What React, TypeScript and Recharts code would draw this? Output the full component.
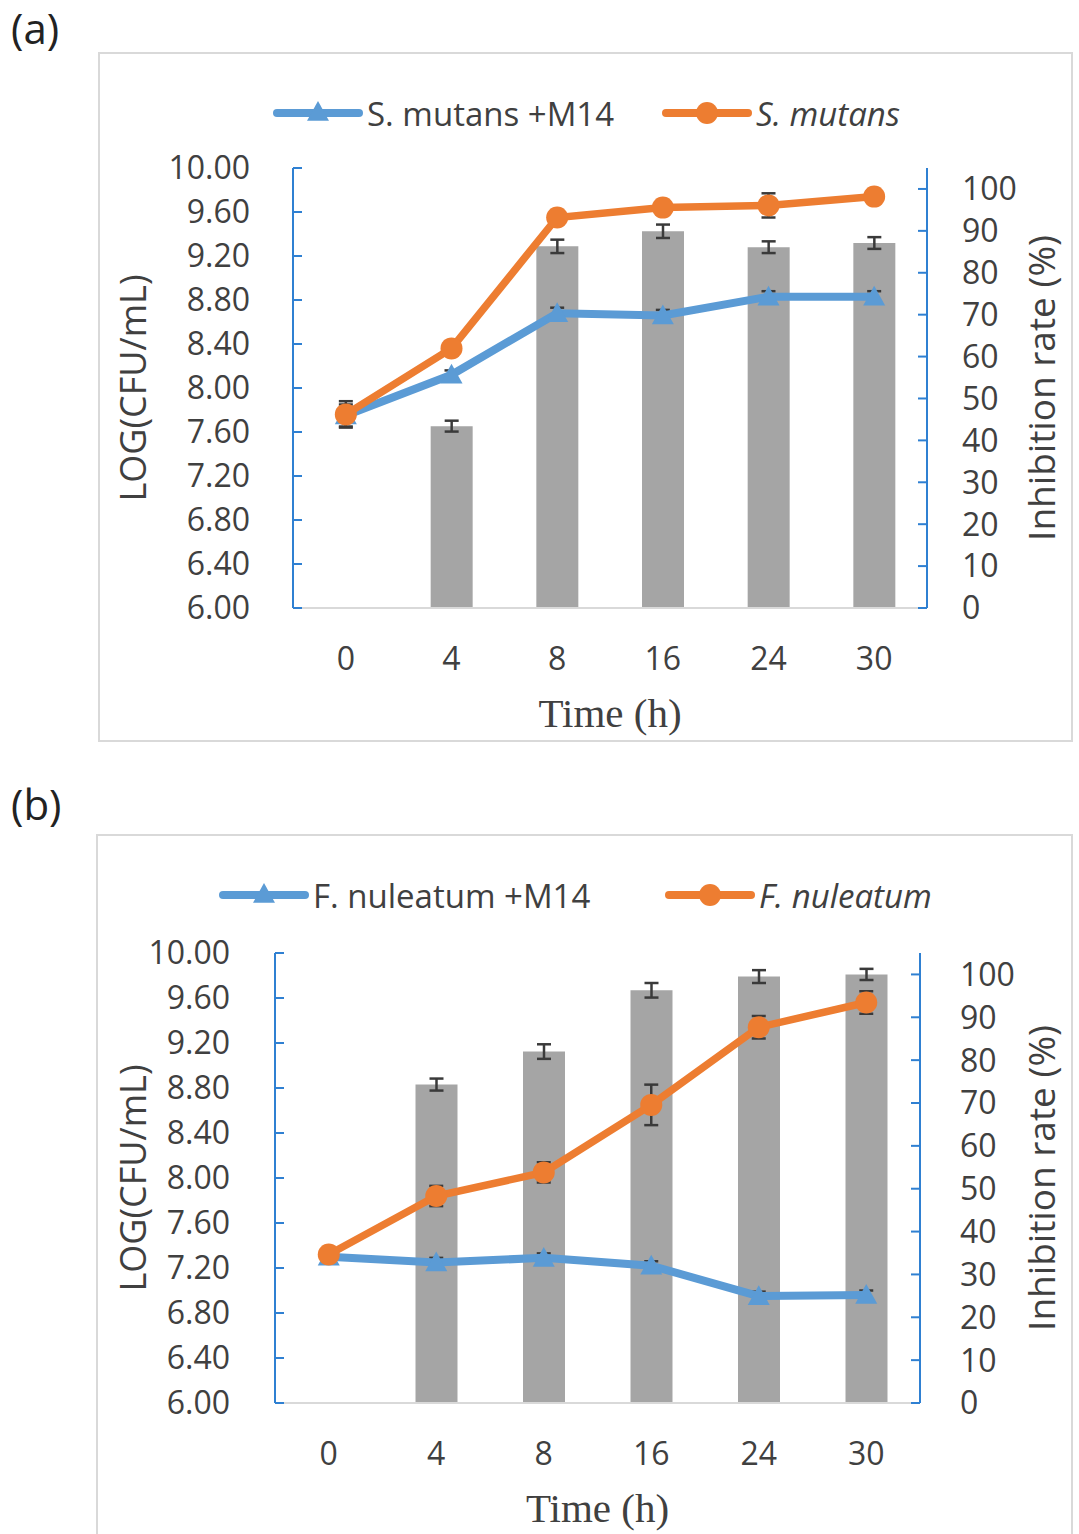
import type { ReactElement } from 'react'
import { ComposedChart, Bar, Line, XAxis, YAxis, ErrorBar } from 'recharts'

const times = ['0', '4', '8', '16', '24', '30']
const logTicks = [6, 6.4, 6.8, 7.2, 7.6, 8, 8.4, 8.8, 9.2, 9.6, 10]
const rateTicks = [0, 10, 20, 30, 40, 50, 60, 70, 80, 90, 100]

// panel (a) – S. mutans
const mutansM14 = [7.75, 8.12, 8.68, 8.66, 8.83, 8.83]
const mutansM14Err = [0.1, 0.04, 0.05, 0.05, 0.05, 0.05]
const mutans = [7.76, 8.36, 9.55, 9.64, 9.66, 9.74]
const mutansErr = [0.12, 0.06, 0.06, 0.04, 0.11, 0.05]
const rateA = [null, 43.4, 86.3, 89.9, 86.1, 87.1]
const rateAErr = [null, 1.3, 1.6, 1.6, 1.4, 1.4]

// panel (b) – F. nucleatum
const nuleatumM14 = [7.3, 7.25, 7.29, 7.22, 6.95, 6.96]
const nuleatumM14Err = [0.03, 0.04, 0.04, 0.04, 0.04, 0.04]
const nuleatum = [7.32, 7.84, 8.05, 8.65, 9.34, 9.56]
const nuleatumErr = [0.03, 0.09, 0.09, 0.18, 0.1, 0.1]
const rateB = [null, 74.3, 82.0, 96.3, 99.5, 100.0]
const rateBErr = [null, 1.4, 1.7, 1.7, 1.5, 1.3]

const BLUE = '#5B9BD5'
const ORANGE = '#ED7D31'
const GRAY = '#A5A5A5'
const AXIS_BLUE = '#2F80D2'
const TEXT = '#404040'
const SANS = '"Open Sans", "Noto Sans", sans-serif'
const SERIF = '"Liberation Serif", "DejaVu Serif", serif'

function buildRows(
  m14: number[],
  m14Err: number[],
  ctrl: number[],
  ctrlErr: number[],
  rate: (number | null)[],
  rateErr: (number | null)[],
) {
  return times.map((t, i) => ({
    time: t,
    m14: m14[i],
    m14Err: m14Err[i],
    ctrl: ctrl[i],
    ctrlErr: ctrlErr[i],
    rate: rate[i],
    rateErr: rateErr[i],
  }))
}

function triangle(cx: number, cy: number, r: number): string {
  return `${cx},${cy - r} ${cx - r},${cy + r * 0.8} ${cx + r},${cy + r * 0.8}`
}

function TriangleDot(props: any): ReactElement | null {
  const { cx, cy } = props
  if (cx == null || cy == null || Number.isNaN(cy)) return null
  return <polygon points={triangle(cx, cy, 11)} fill={BLUE} />
}

function AxisTitle(props: any): ReactElement {
  const { viewBox, value, dx = 0, dy = 0, rotate = 0, font = SANS, size = 36, axis = 'y' } = props
  const vb = viewBox || { x: 0, y: 0, width: 0, height: 0 }
  const x = axis === 'y' ? vb.x + dx : vb.x + vb.width / 2
  const y = axis === 'y' ? vb.y + vb.height / 2 : vb.y + dy
  return (
    <text
      x={x}
      y={y}
      fill={TEXT}
      fontFamily={font}
      fontSize={size}
      textAnchor="middle"
      dominantBaseline="central"
      transform={rotate ? `rotate(${rotate} ${x} ${y})` : undefined}
    >
      {value}
    </text>
  )
}

function LegendItem({ left, top, color, shape, label, italic }: any): ReactElement {
  return (
    <div
      style={{
        position: 'absolute',
        left,
        top,
        height: 40,
        display: 'flex',
        alignItems: 'center',
        fontFamily: SANS,
        fontSize: 33,
        color: TEXT,
        whiteSpace: 'nowrap',
      }}
    >
      <svg width={92} height={30} style={{ marginRight: 3 }}>
        <line x1={5} y1={15} x2={87} y2={15} stroke={color} strokeWidth={8} strokeLinecap="round" />
        {shape === 'tri' ? (
          <polygon points={triangle(46, 14, 11)} fill={color} />
        ) : (
          <circle cx={46} cy={15} r={11} fill={color} />
        )}
      </svg>
      <span style={{ fontStyle: italic ? 'italic' : 'normal' }}>{label}</span>
    </div>
  )
}

interface PanelProps {
  tag: string
  tagTop: number
  box: { left: number; top: number; width: number; height: number }
  chartHeight: number
  plot: { left: number; right: number; top: number; bottom: number }
  rows: ReturnType<typeof buildRows>
  legend: { m14: string; ctrl: string; m14Left: number; ctrlLeft: number; top: number }
  leftGap: number
  rightGap: number
  leftTitleX: number
  rightTitleX: number
}

function Panel(p: PanelProps): ReactElement {
  const { box, plot } = p
  const leftW = plot.left - box.left
  const rightW = box.left + box.width - plot.right
  const topM = plot.top - box.top
  const xH = box.top + p.chartHeight - plot.bottom
  return (
    <>
      <div
        style={{
          position: 'absolute',
          left: 11,
          top: p.tagTop,
          fontFamily: SANS,
          fontSize: 42,
          lineHeight: '52px',
          color: '#222',
        }}
      >
        {p.tag}
      </div>
      <div
        style={{
          position: 'absolute',
          left: box.left,
          top: box.top,
          width: box.width,
          height: box.height,
          border: '2px solid #D9D9D9',
          boxSizing: 'border-box',
        }}
      />
      <div style={{ position: 'absolute', left: box.left, top: box.top }}>
        <ComposedChart
          width={box.width}
          height={p.chartHeight}
          data={p.rows}
          margin={{ top: topM, right: 0, bottom: 0, left: 0 }}
        >
          <XAxis
            dataKey="time"
            xAxisId="x"
            height={xH}
            axisLine={{ stroke: '#D9D9D9', strokeWidth: 2 }}
            tickLine={false}
            tickMargin={33}
            tick={{ fill: TEXT, fontSize: 32, fontFamily: SANS }}
            label={<AxisTitle value="Time (h)" axis="x" dy={105} font={SERIF} size={41} />}
          />
          <YAxis
            yAxisId="log"
            orientation="left"
            width={leftW}
            domain={[6, 10]}
            ticks={logTicks}
            interval={0}
            allowDataOverflow
            tickFormatter={(v: number) => v.toFixed(2)}
            axisLine={{ stroke: AXIS_BLUE, strokeWidth: 2 }}
            tickLine={{ stroke: AXIS_BLUE, strokeWidth: 2 }}
            tickSize={-9}
            tickMargin={9 + p.leftGap}
            tick={{ fill: TEXT, fontSize: 32, fontFamily: SANS }}
            label={<AxisTitle value="LOG(CFU/mL)" dx={p.leftTitleX} rotate={-90} size={36} />}
          />
          <YAxis
            yAxisId="rate"
            orientation="right"
            width={rightW}
            domain={[0, 105]}
            ticks={rateTicks}
            interval={0}
            allowDataOverflow
            axisLine={{ stroke: AXIS_BLUE, strokeWidth: 2 }}
            tickLine={{ stroke: AXIS_BLUE, strokeWidth: 2 }}
            tickSize={-9}
            tickMargin={9 + p.rightGap}
            tick={{ fill: TEXT, fontSize: 32, fontFamily: SANS, textAnchor: 'start' }}
            label={<AxisTitle value="Inhibition rate (%)" dx={p.rightTitleX} rotate={-90} size={37} />}
          />
          <Bar dataKey="rate" xAxisId="x" yAxisId="rate" fill={GRAY} barSize={42} isAnimationActive={false}>
            <ErrorBar dataKey="rateErr" width={7} stroke="#3A3A3A" strokeWidth={2.5} />
          </Bar>
          <Line
            dataKey="m14"
            xAxisId="x"
            yAxisId="log"
            stroke={BLUE}
            strokeWidth={8}
            dot={(d: any) => <TriangleDot key={`t-${d.index}`} {...d} />}
            activeDot={false}
            isAnimationActive={false}
          >
            <ErrorBar dataKey="m14Err" width={7} stroke="#3A3A3A" strokeWidth={2.5} />
          </Line>
          <Line
            dataKey="ctrl"
            xAxisId="x"
            yAxisId="log"
            stroke={ORANGE}
            strokeWidth={7.5}
            dot={{ r: 11, fill: ORANGE, stroke: 'none' }}
            activeDot={false}
            isAnimationActive={false}
          >
            <ErrorBar dataKey="ctrlErr" width={7} stroke="#3A3A3A" strokeWidth={2.5} />
          </Line>
        </ComposedChart>
      </div>
      <LegendItem left={p.legend.m14Left} top={p.legend.top} color={BLUE} shape="tri" label={p.legend.m14} />
      <LegendItem left={p.legend.ctrlLeft} top={p.legend.top} color={ORANGE} shape="circle" label={p.legend.ctrl} italic />
    </>
  )
}

export default function App(): ReactElement {
  const rowsA = buildRows(mutansM14, mutansM14Err, mutans, mutansErr, rateA, rateAErr)
  const rowsB = buildRows(nuleatumM14, nuleatumM14Err, nuleatum, nuleatumErr, rateB, rateBErr)
  return (
    <div
      style={{
        position: 'absolute',
        left: 0,
        top: 0,
        width: 1079,
        height: 1534,
        overflow: 'hidden',
        background: '#fff',
      }}
    >
      <Panel
        tag="(a)"
        tagTop={2}
        box={{ left: 98, top: 52, width: 975, height: 690 }}
        chartHeight={690}
        plot={{ left: 293, right: 927, top: 168, bottom: 608 }}
        rows={rowsA}
        legend={{ m14: 'S. mutans +M14', ctrl: 'S. mutans', m14Left: 272, ctrlLeft: 661, top: 93 }}
        leftGap={43}
        rightGap={35}
        leftTitleX={34}
        rightTitleX={113}
      />
      <Panel
        tag="(b)"
        tagTop={778}
        box={{ left: 96, top: 834, width: 977, height: 730 }}
        chartHeight={700}
        plot={{ left: 275, right: 920, top: 953, bottom: 1403 }}
        rows={rowsB}
        legend={{ m14: 'F. nuleatum +M14', ctrl: 'F. nuleatum', m14Left: 218, ctrlLeft: 664, top: 875 }}
        leftGap={45}
        rightGap={40}
        leftTitleX={36}
        rightTitleX={120}
      />
    </div>
  )
}
